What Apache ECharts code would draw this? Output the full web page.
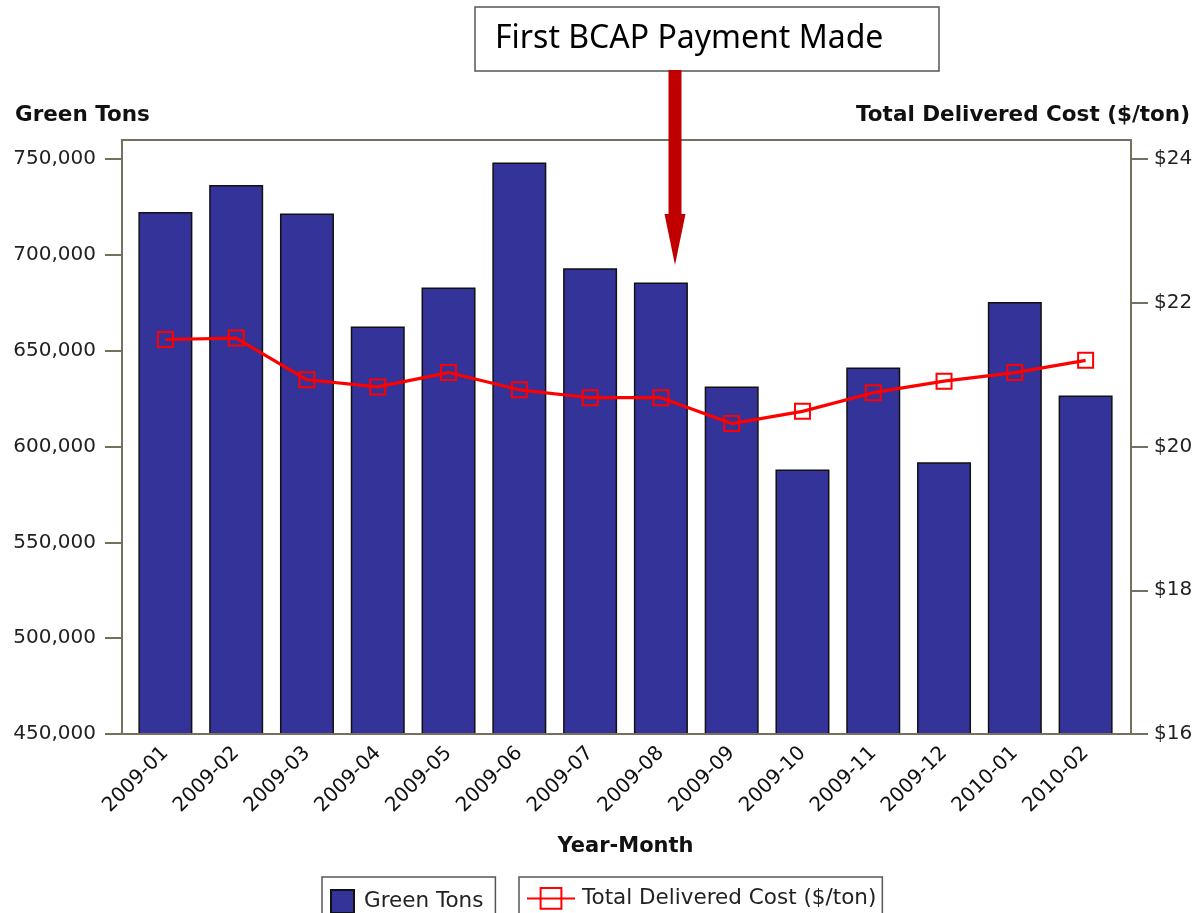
<!DOCTYPE html>
<html>
<head>
<meta charset="utf-8">
<script src="https://cdn.jsdelivr.net/npm/echarts@6/dist/echarts.min.js"></script>
<style>html,body{margin:0;padding:0;background:#fff}#c{width:1199px;height:913px}</style>
</head>
<body>
<div id="c"></div>
<script>
var categories = ['2009-01','2009-02','2009-03','2009-04','2009-05','2009-06','2009-07','2009-08','2009-09','2009-10','2009-11','2009-12','2010-01','2010-02'];
var greenTons = [722400, 736500, 721700, 662700, 683000, 748300, 693100, 685600, 631400, 588000, 641300, 591800, 675500, 626600];
var deliveredCost = [21.49, 21.51, 20.93, 20.83, 21.03, 20.79, 20.68, 20.68, 20.32, 20.49, 20.75, 20.91, 21.03, 21.20];
var leftTicks = [450000, 500000, 550000, 600000, 650000, 700000, 750000];
var rightTicks = [16, 18, 20, 22, 24];

var FONT = 'DejaVu Sans';
var AXC = '#77705f';
var chart = echarts.init(document.getElementById('c'), null, {renderer: 'canvas'});
chart.setOption({
  backgroundColor: '#ffffff',
  animation: false,
  title: [
    {text: 'Green Tons', left: 10, top: 99, textStyle: {fontFamily: FONT, fontWeight: 'bold', fontSize: 21.5, color: '#111'}},
    {text: 'Total Delivered Cost ($/ton)', right: 4, top: 99, textStyle: {fontFamily: FONT, fontWeight: 'bold', fontSize: 21.5, color: '#111'}}
  ],
  grid: {left: 130, right: 78, top: 140, bottom: 179, containLabel: false},
  xAxis: {
    type: 'category',
    data: categories,
    boundaryGap: true,
    name: 'Year-Month',
    nameLocation: 'middle',
    nameGap: 102,
    nameTextStyle: {fontFamily: FONT, fontWeight: 'bold', fontSize: 21, color: '#111'},
    axisLine: {show: true, lineStyle: {color: AXC, width: 2}},
    axisTick: {show: false},
    axisLabel: {rotate: 45, fontFamily: FONT, fontSize: 20, color: '#111', margin: 16, interval: 0}
  },
  yAxis: [
    {
      type: 'value', min: 450000, max: 760000, interval: 50000, offset: 8, position: 'left',
      splitLine: {show: false},
      axisLine: {show: true, lineStyle: {color: AXC, width: 2}},
      axisTick: {show: true, length: 17, customValues: leftTicks, lineStyle: {color: AXC, width: 2}},
      axisLabel: {customValues: leftTicks, margin: 26, fontFamily: FONT, fontSize: 20, color: '#222',
        formatter: function (v) { return v.toLocaleString('en-US'); }}
    },
    {
      type: 'value', min: 16, max: 16 + 8 * 310 / 300, offset: 10, position: 'right',
      splitLine: {show: false},
      axisLine: {show: true, lineStyle: {color: AXC, width: 2}},
      axisTick: {show: true, length: 17, customValues: rightTicks, lineStyle: {color: AXC, width: 2}},
      axisLabel: {customValues: rightTicks, margin: 23, fontFamily: FONT, fontSize: 20, color: '#222',
        formatter: function (v) { return '$' + v; }}
    }
  ],
  legend: [
    {
      data: ['Green Tons'], left: 322, top: 877, orient: 'horizontal',
      borderColor: '#555', borderWidth: 1.5, borderRadius: 0, padding: [12, 12, 12, 8],
      itemWidth: 23, itemHeight: 23, icon: 'rect',
      textStyle: {fontFamily: FONT, fontSize: 21.5, color: '#222', padding: [0, 0, 0, 5]}
    },
    {
      data: ['Total Delivered Cost ($/ton)'], left: 519, top: 877, orient: 'horizontal',
      borderColor: '#555', borderWidth: 1.5, borderRadius: 0, padding: [10, 6, 10, 7],
      itemWidth: 48, itemHeight: 26,
      textStyle: {fontFamily: FONT, fontSize: 21.5, color: '#222', padding: [0, 0, 0, 2]}
    }
  ],
  series: [
    {
      name: 'Green Tons', type: 'bar', yAxisIndex: 0, data: greenTons, barWidth: 54,
      itemStyle: {color: '#333399', borderColor: '#111', borderWidth: 1.5},
      emphasis: {disabled: true}
    },
    {
      name: 'Total Delivered Cost ($/ton)', type: 'line', yAxisIndex: 1, data: deliveredCost,
      symbol: 'rect', symbolSize: 15, showAllSymbol: true,
      lineStyle: {color: '#ff0000', width: 3.2},
      itemStyle: {color: 'rgba(255,255,255,0)', borderColor: '#ff0000', borderWidth: 2},
      emphasis: {disabled: true}, z: 5
    }
  ],
  graphic: [
    {type: 'rect', shape: {x: 122, y: 140, width: 1009, height: 594}, style: {fill: 'none', stroke: AXC, lineWidth: 2}, z: 50, silent: true},
    {type: 'rect', shape: {x: 475, y: 7, width: 464, height: 64}, style: {fill: '#ffffff', stroke: '#555', lineWidth: 1.5}, z: 60},
    {type: 'text', x: 495, y: 39, style: {text: 'First BCAP Payment Made', font: '32px "Noto Sans"', fill: '#000', textVerticalAlign: 'middle'}, z: 61},
    {type: 'polygon', shape: {points: [[668.5, 70], [681.5, 70], [681.5, 214], [685.5, 214], [675, 265], [664.5, 214], [668.5, 214]]}, style: {fill: '#c00000'}, z: 62}
  ]
});
</script>
</body>
</html>
